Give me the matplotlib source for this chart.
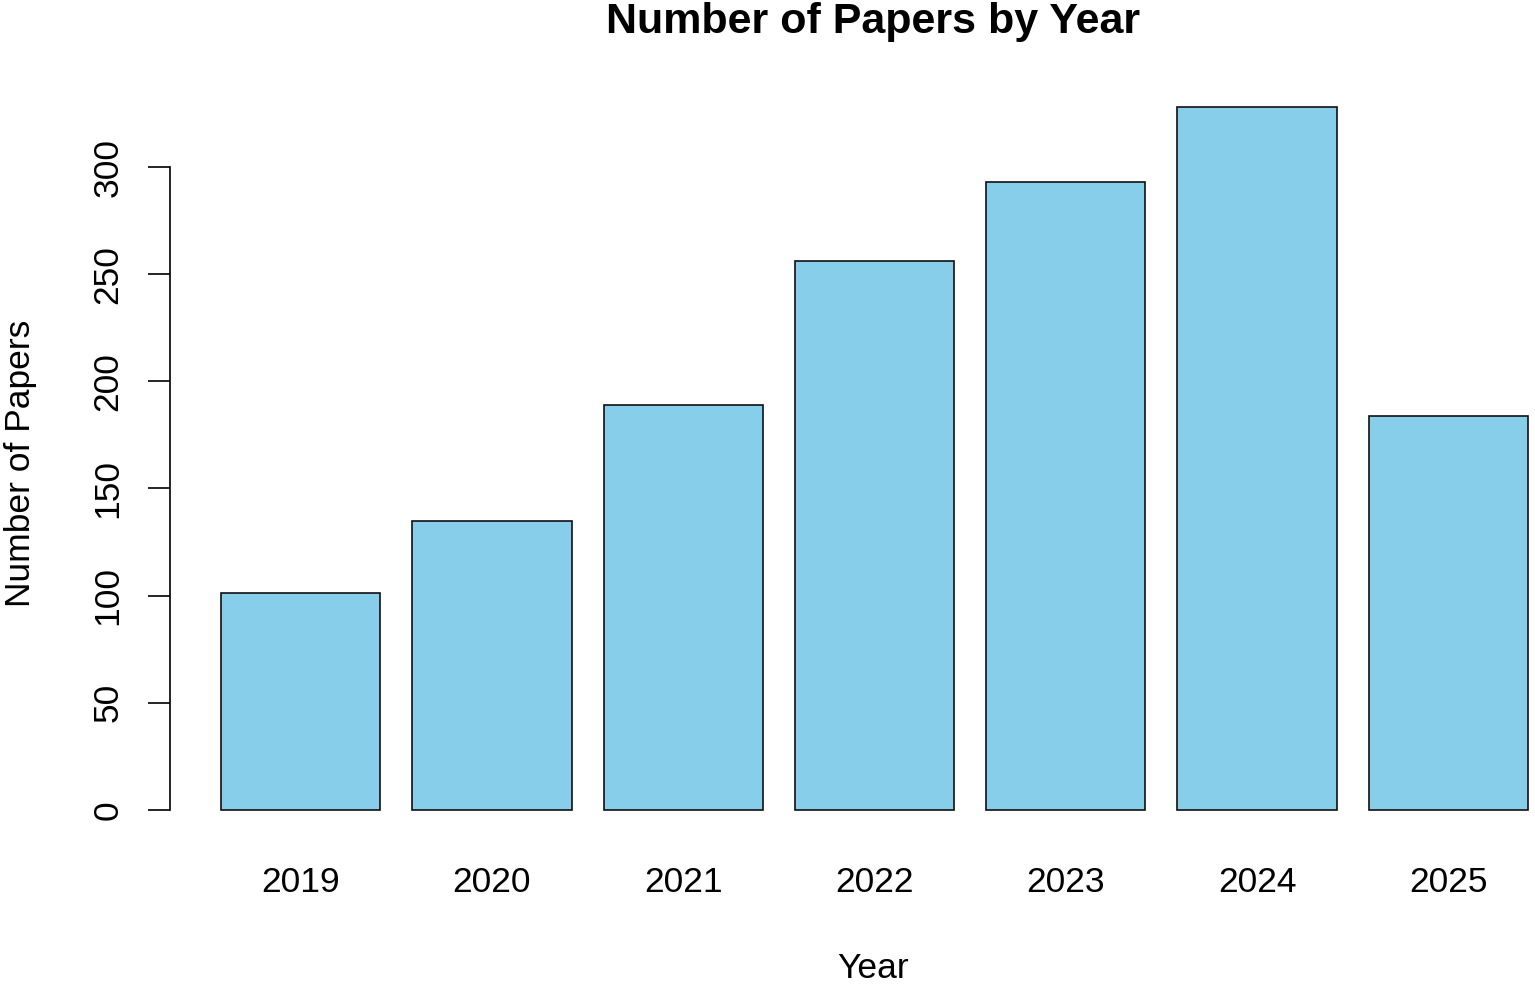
import numpy as np
import matplotlib.pyplot as plt

years = ["2019", "2020", "2021", "2022", "2023", "2024", "2025"]
papers = [101, 135, 189, 256, 293, 328, 184]
y_ticks = [0, 50, 100, 150, 200, 250, 300]

plt.rcParams['font.family'] = ['Liberation Sans', 'DejaVu Sans']

W, H = 1535, 986
fig = plt.figure(figsize=(W / 100, H / 100), dpi=100)

# axes box in pixels, R-like usr extents
left, right, top, bottom = 170, 1535, 79, 838
ax = fig.add_axes([left / W, 1 - bottom / H, (right - left) / W, (bottom - top) / H])

# barplot layout: width 1, space 0.2
pos = 0.7 + 1.2 * np.arange(len(years))
ax.bar(pos, papers, width=1.0, color="#87CEEB", edgecolor="#111111", linewidth=1.2)

ymax = max(papers)
ax.set_ylim(-0.04 * ymax, ymax * 1.04)
ax.set_xlim(-0.12, 8.444)

for s in ["top", "right", "bottom"]:
    ax.spines[s].set_visible(False)
ax.spines["left"].set_bounds(0, 300)
ax.spines["left"].set_linewidth(1.2)

ax.set_yticks(y_ticks)
ax.set_yticklabels([str(t) for t in y_ticks], rotation=90, va="center", fontsize=25.5)
ax.tick_params(axis="y", length=16, width=1.2, pad=17)

ax.set_xticks(pos)
ax.set_xticklabels(years, fontsize=25.5)
ax.tick_params(axis="x", length=0, pad=20)

fig.text(873 / W, 1 - 969 / H, "Year", ha="center", va="center", fontsize=25.5)
fig.text(21 / W, 1 - 463 / H, "Number of Papers", ha="center", va="center",
         rotation=90, fontsize=25.5)
fig.text(873 / W, 1 - 22 / H, "Number of Papers by Year", ha="center", va="center",
         fontsize=31, fontweight="bold")

fig.savefig("out.png", dpi=100, facecolor="white")
